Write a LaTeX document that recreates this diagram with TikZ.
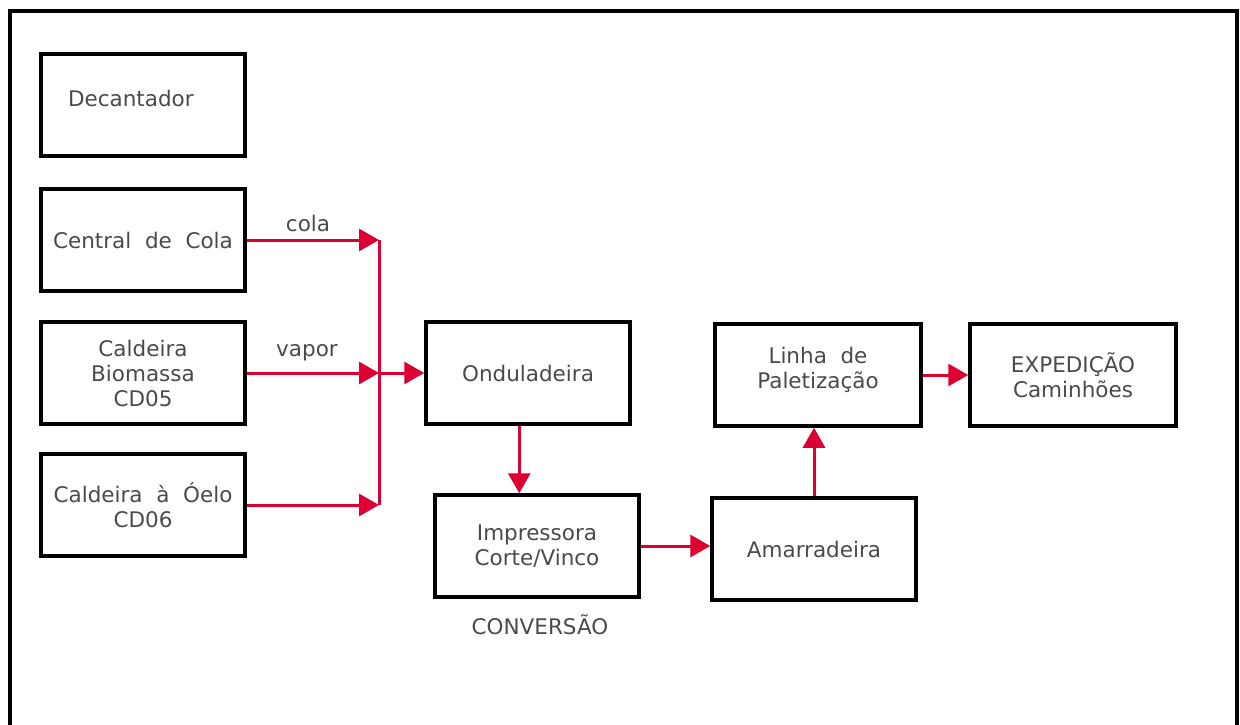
\documentclass[tikz,border=0pt]{standalone}
\usepackage{fontspec}
\setmainfont{DejaVu Sans}
\usepackage{tikz}
\usetikzlibrary{arrows.meta}
\definecolor{flowred}{HTML}{DC0032}
\definecolor{txtgray}{HTML}{4A4A4A}

\begin{document}
\begin{tikzpicture}[
		x=1pt, y=-1pt,
		every node/.style = {text=txtgray, font=\fontsize{21.5}{25}\selectfont},
		block/.style = {shape=rectangle, draw=black, line width=3.5pt, align=center,
			minimum width=204pt, minimum height=102pt, inner sep=0pt},
		flow/.style = {draw=flowred, line width=3pt, -{Triangle[length=20pt, width=22pt]}},
		feed/.style = {draw=flowred, line width=3pt}]
		\useasboundingbox (0,0) rectangle (1240,725);
		\draw[line width=3.5pt] (10,725) -- (10,11) -- (1237,11) -- (1237,725);
		\node[block, text width=150pt, align=left, text depth=14pt] (deca) at (143,105) {Decantador};
		\node[block] (cola) at (143,240) {Central \ de \ Cola};
		\node[block] (bio) at (143,373) {Caldeira\\Biomassa\\CD05};
		\node[block] (oleo) at (143,505) {Caldeira \ à \ Óelo\\CD06};
		\node[block] (ond) at (528,373) {Onduladeira};
		\node[block] (imp) at (537,546) {Impressora\\Corte/Vinco};
		\node (conv) at (540,625) {CONVERSÃO};
		\node[block] (ama) at (814,549) {Amarradeira};
		\node[block, minimum width=206pt] (lin) at (818,375) {Linha \ de\\Paletização\\[-10pt]};
		\node[block, minimum width=206pt] (exp) at (1073,375) {EXPEDIÇÃO\\Caminhões};
		\coordinate (jn) at (379,373);
		\node (lcola) at (308,223) {cola};
		\node (lvapor) at (307,353) {vapor};
		\draw[feed] (cola -| jn) -- (oleo -| jn);
		\draw[flow] (cola) -- (cola -| jn);
		\draw[flow] (bio) -- (bio -| jn);
		\draw[flow] (oleo) -- (oleo -| jn);
		\draw[flow] (jn) -- (ond);
		\draw[flow] (ond.south -| imp.north west) ++(86,0) coordinate (od) -- (od |- imp.north);
		\draw[flow] (imp) -- (imp -| ama.west);
		\draw[flow] (ama) -- (ama |- lin.south);
		\draw[flow] (lin) -- (exp);
	\end{tikzpicture}
\end{document}
